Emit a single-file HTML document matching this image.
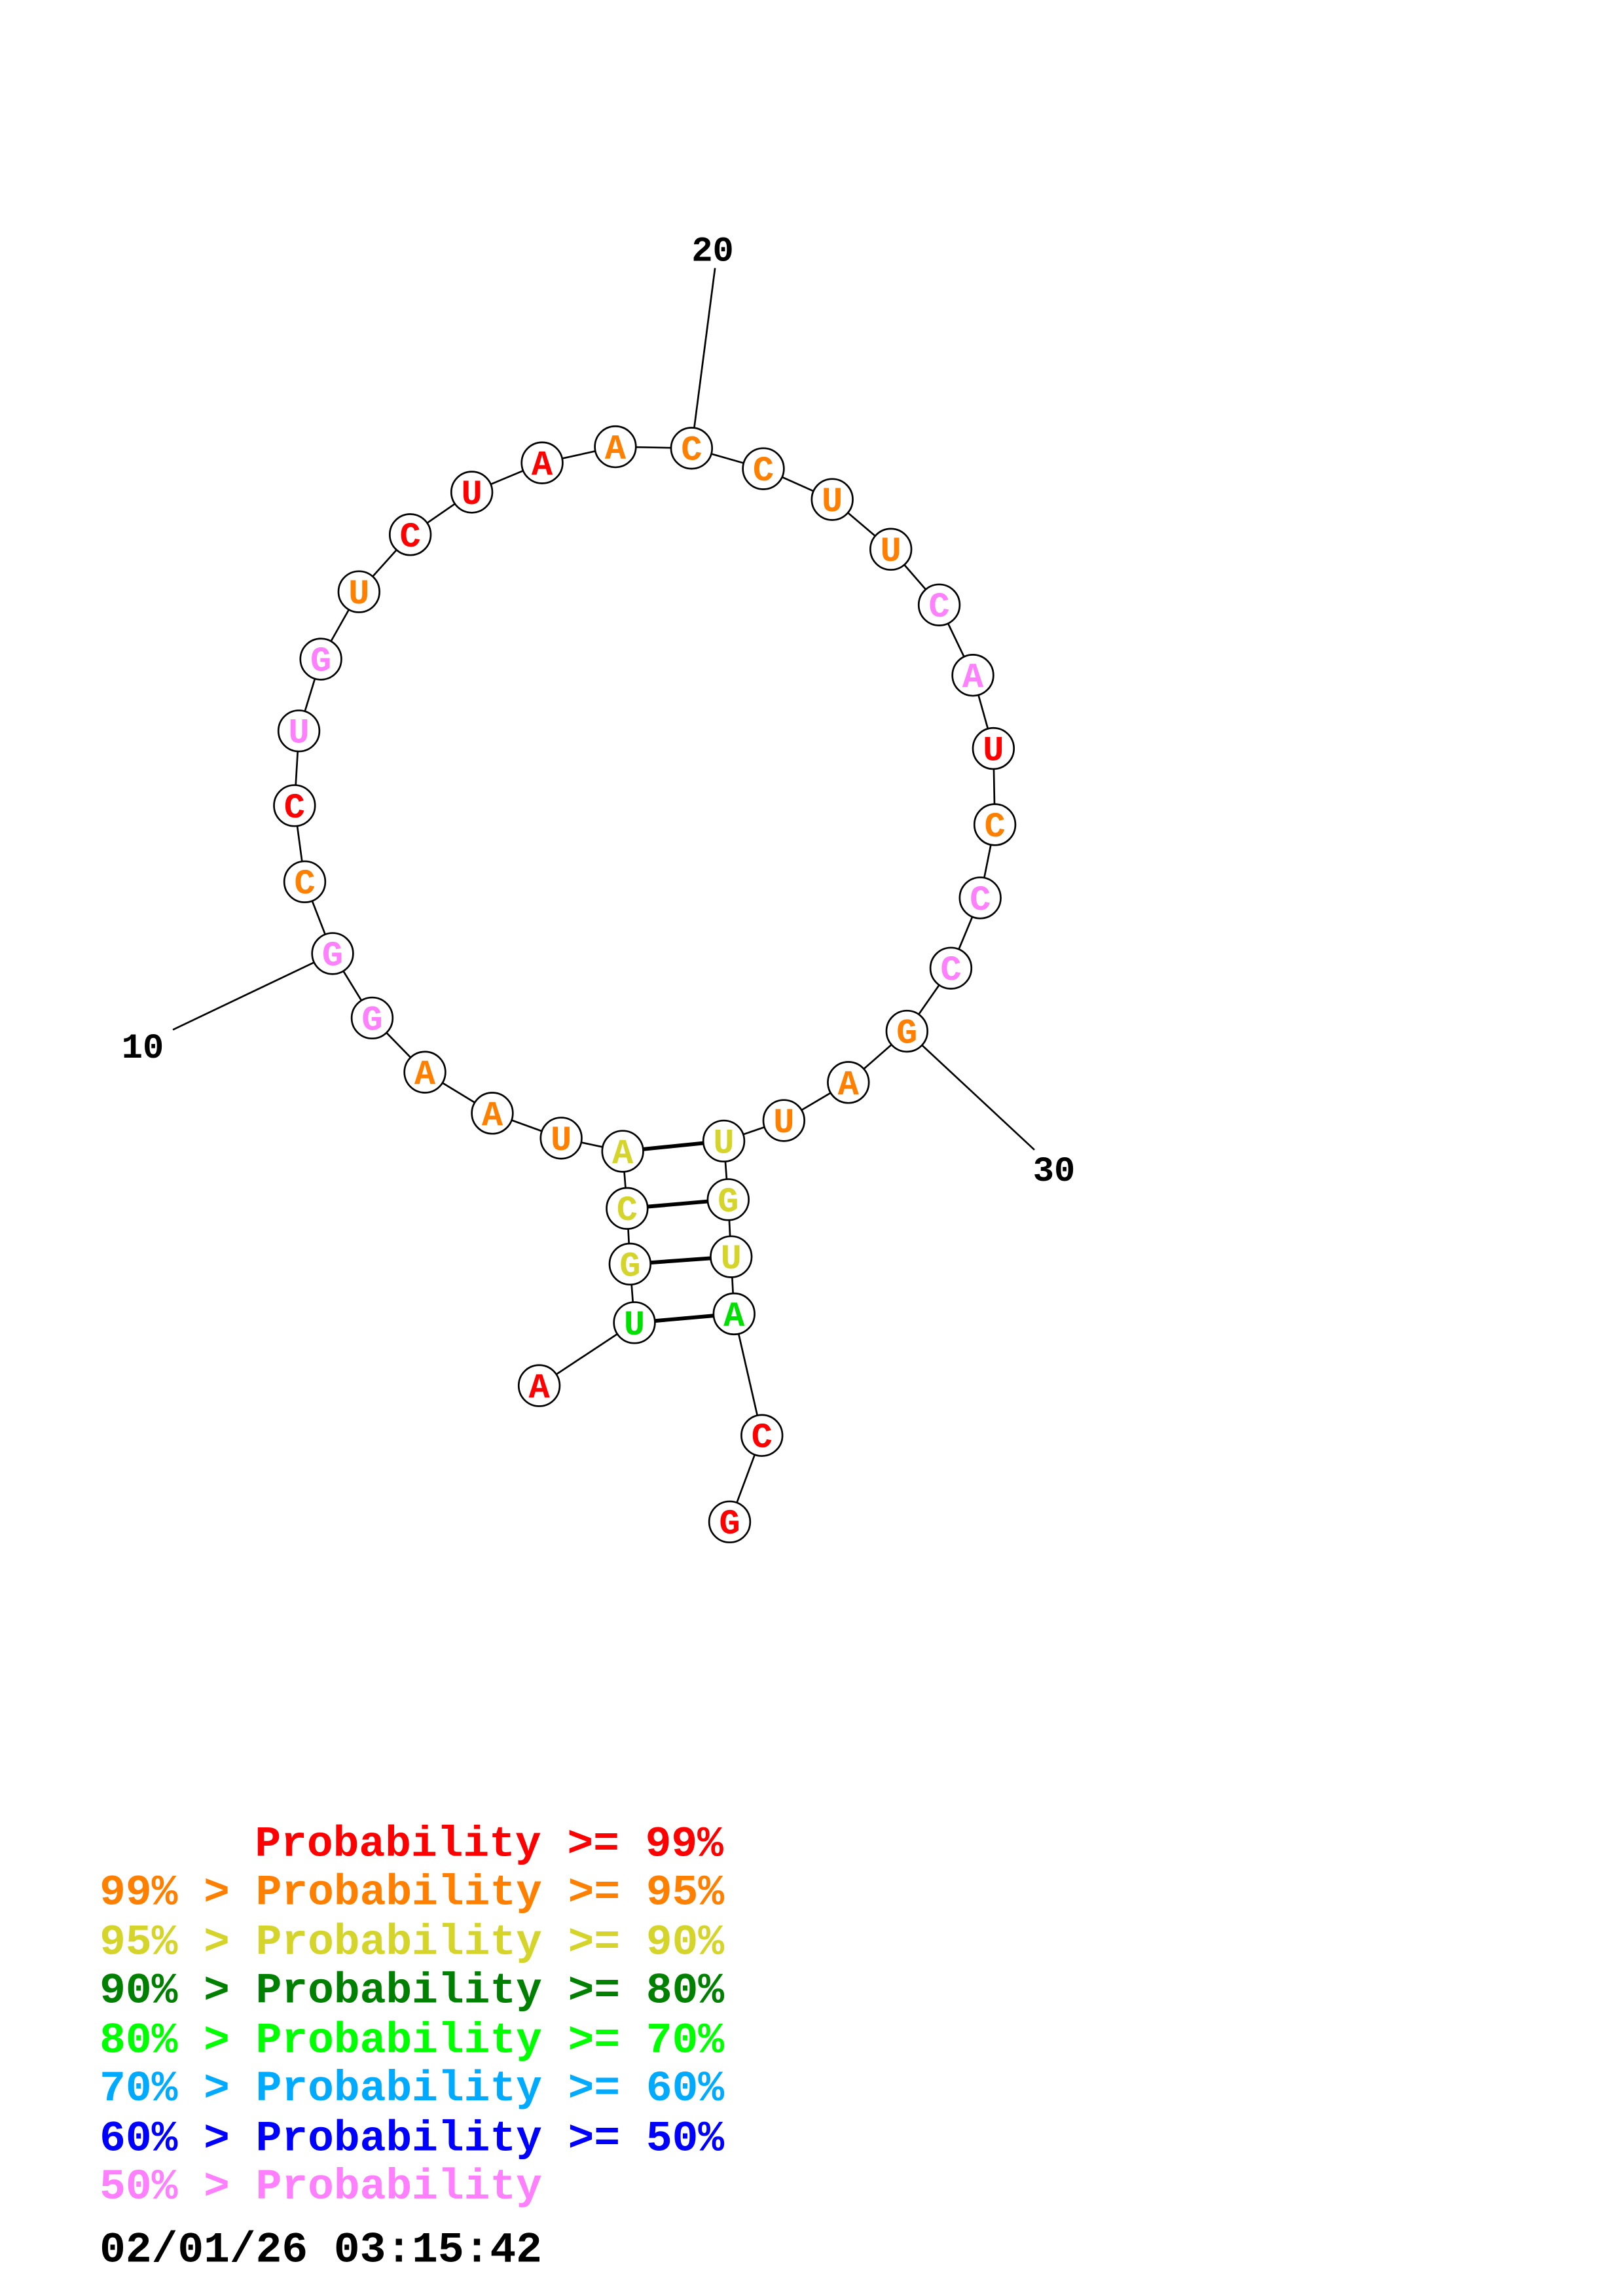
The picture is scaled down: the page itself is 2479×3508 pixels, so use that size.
<!DOCTYPE html>
<html><head><meta charset="utf-8"><style>html,body{margin:0;padding:0;background:#fff}svg{display:block}</style></head>
<body>
<svg width="2479" height="3508" viewBox="0 0 1107.7 1567.5" xmlns="http://www.w3.org/2000/svg" font-family="'Liberation Mono', monospace" font-weight="bold">
<g stroke="#000" stroke-width="1.2" fill="none">
<line x1="488" y1="183" x2="472" y2="306"/>
<line x1="118" y1="703" x2="227" y2="651"/>
<line x1="706" y1="785" x2="619" y2="704"/>
<polyline points="368,946 433,903 430,863 428,825 425,786 383,777 336,760 290,732 254,695 227,651 208,602 201,550 204,499 219,450 245,404 280,365 322,336 370,316 420,305 472,306 521,320 568,341 608,375 641,413 664,461 678,511 679,563 669,613 649,661 619,704 579,739 535,765 494,779 497,819 499,858 501,897 520,980 498,1039"/>
</g>
<g stroke="#000" stroke-width="2.6">
<line x1="425" y1="786" x2="494" y2="779"/>
<line x1="428" y1="825" x2="497" y2="819"/>
<line x1="430" y1="863" x2="499" y2="858"/>
<line x1="433" y1="903" x2="501" y2="897"/>
</g>
<g fill="#fff" stroke="#000" stroke-width="1.2">
<circle cx="368" cy="946" r="14"/><circle cx="433" cy="903" r="14"/><circle cx="430" cy="863" r="14"/><circle cx="428" cy="825" r="14"/><circle cx="425" cy="786" r="14"/><circle cx="383" cy="777" r="14"/><circle cx="336" cy="760" r="14"/><circle cx="290" cy="732" r="14"/><circle cx="254" cy="695" r="14"/><circle cx="227" cy="651" r="14"/><circle cx="208" cy="602" r="14"/><circle cx="201" cy="550" r="14"/><circle cx="204" cy="499" r="14"/><circle cx="219" cy="450" r="14"/><circle cx="245" cy="404" r="14"/><circle cx="280" cy="365" r="14"/><circle cx="322" cy="336" r="14"/><circle cx="370" cy="316" r="14"/><circle cx="420" cy="305" r="14"/><circle cx="472" cy="306" r="14"/><circle cx="521" cy="320" r="14"/><circle cx="568" cy="341" r="14"/><circle cx="608" cy="375" r="14"/><circle cx="641" cy="413" r="14"/><circle cx="664" cy="461" r="14"/><circle cx="678" cy="511" r="14"/><circle cx="679" cy="563" r="14"/><circle cx="669" cy="613" r="14"/><circle cx="649" cy="661" r="14"/><circle cx="619" cy="704" r="14"/><circle cx="579" cy="739" r="14"/><circle cx="535" cy="765" r="14"/><circle cx="494" cy="779" r="14"/><circle cx="497" cy="819" r="14"/><circle cx="499" cy="858" r="14"/><circle cx="501" cy="897" r="14"/><circle cx="520" cy="980" r="14"/><circle cx="498" cy="1039" r="14"/>
</g>
<g font-size="24" text-anchor="middle">
<text x="368" y="954" fill="#ff0000">A</text>
<text x="433" y="911" fill="#00e000">U</text>
<text x="430" y="871" fill="#d4d42a">G</text>
<text x="428" y="833" fill="#d4d42a">C</text>
<text x="425" y="794" fill="#d4d42a">A</text>
<text x="383" y="785" fill="#ff8000">U</text>
<text x="336" y="768" fill="#ff8000">A</text>
<text x="290" y="740" fill="#ff8000">A</text>
<text x="254" y="703" fill="#ff80ff">G</text>
<text x="227" y="659" fill="#ff80ff">G</text>
<text x="208" y="610" fill="#ff8000">C</text>
<text x="201" y="558" fill="#ff0000">C</text>
<text x="204" y="507" fill="#ff80ff">U</text>
<text x="219" y="458" fill="#ff80ff">G</text>
<text x="245" y="412" fill="#ff8000">U</text>
<text x="280" y="373" fill="#ff0000">C</text>
<text x="322" y="344" fill="#ff0000">U</text>
<text x="370" y="324" fill="#ff0000">A</text>
<text x="420" y="313" fill="#ff8000">A</text>
<text x="472" y="314" fill="#ff8000">C</text>
<text x="521" y="328" fill="#ff8000">C</text>
<text x="568" y="349" fill="#ff8000">U</text>
<text x="608" y="383" fill="#ff8000">U</text>
<text x="641" y="421" fill="#ff80ff">C</text>
<text x="664" y="469" fill="#ff80ff">A</text>
<text x="678" y="519" fill="#ff0000">U</text>
<text x="679" y="571" fill="#ff8000">C</text>
<text x="669" y="621" fill="#ff80ff">C</text>
<text x="649" y="669" fill="#ff80ff">C</text>
<text x="619" y="712" fill="#ff8000">G</text>
<text x="579" y="747" fill="#ff8000">A</text>
<text x="535" y="773" fill="#ff8000">U</text>
<text x="494" y="787" fill="#d4d42a">U</text>
<text x="497" y="827" fill="#d4d42a">G</text>
<text x="499" y="866" fill="#d4d42a">U</text>
<text x="501" y="905" fill="#00e000">A</text>
<text x="520" y="988" fill="#ff0000">C</text>
<text x="498" y="1047" fill="#ff0000">G</text>
</g>
<g font-size="24" fill="#000">
<text x="472" y="178">20</text>
<text x="83" y="722">10</text>
<text x="705" y="806">30</text>
</g>
<g font-size="29.6">
<text x="174" y="1267" fill="#ff0000">Probability &gt;= 99%</text>
<text x="68" y="1300" fill="#ff8000">99% &gt; Probability &gt;= 95%</text>
<text x="68" y="1334" fill="#d4d42a">95% &gt; Probability &gt;= 90%</text>
<text x="68" y="1367" fill="#008000">90% &gt; Probability &gt;= 80%</text>
<text x="68" y="1401" fill="#00ff00">80% &gt; Probability &gt;= 70%</text>
<text x="68" y="1434" fill="#00aaff">70% &gt; Probability &gt;= 60%</text>
<text x="68" y="1468" fill="#0000ff">60% &gt; Probability &gt;= 50%</text>
<text x="68" y="1501" fill="#ff80ff">50% &gt; Probability</text>
<text x="68" y="1544" fill="#000">02/01/26 03:15:42</text>
</g>
</svg>
</body></html>
